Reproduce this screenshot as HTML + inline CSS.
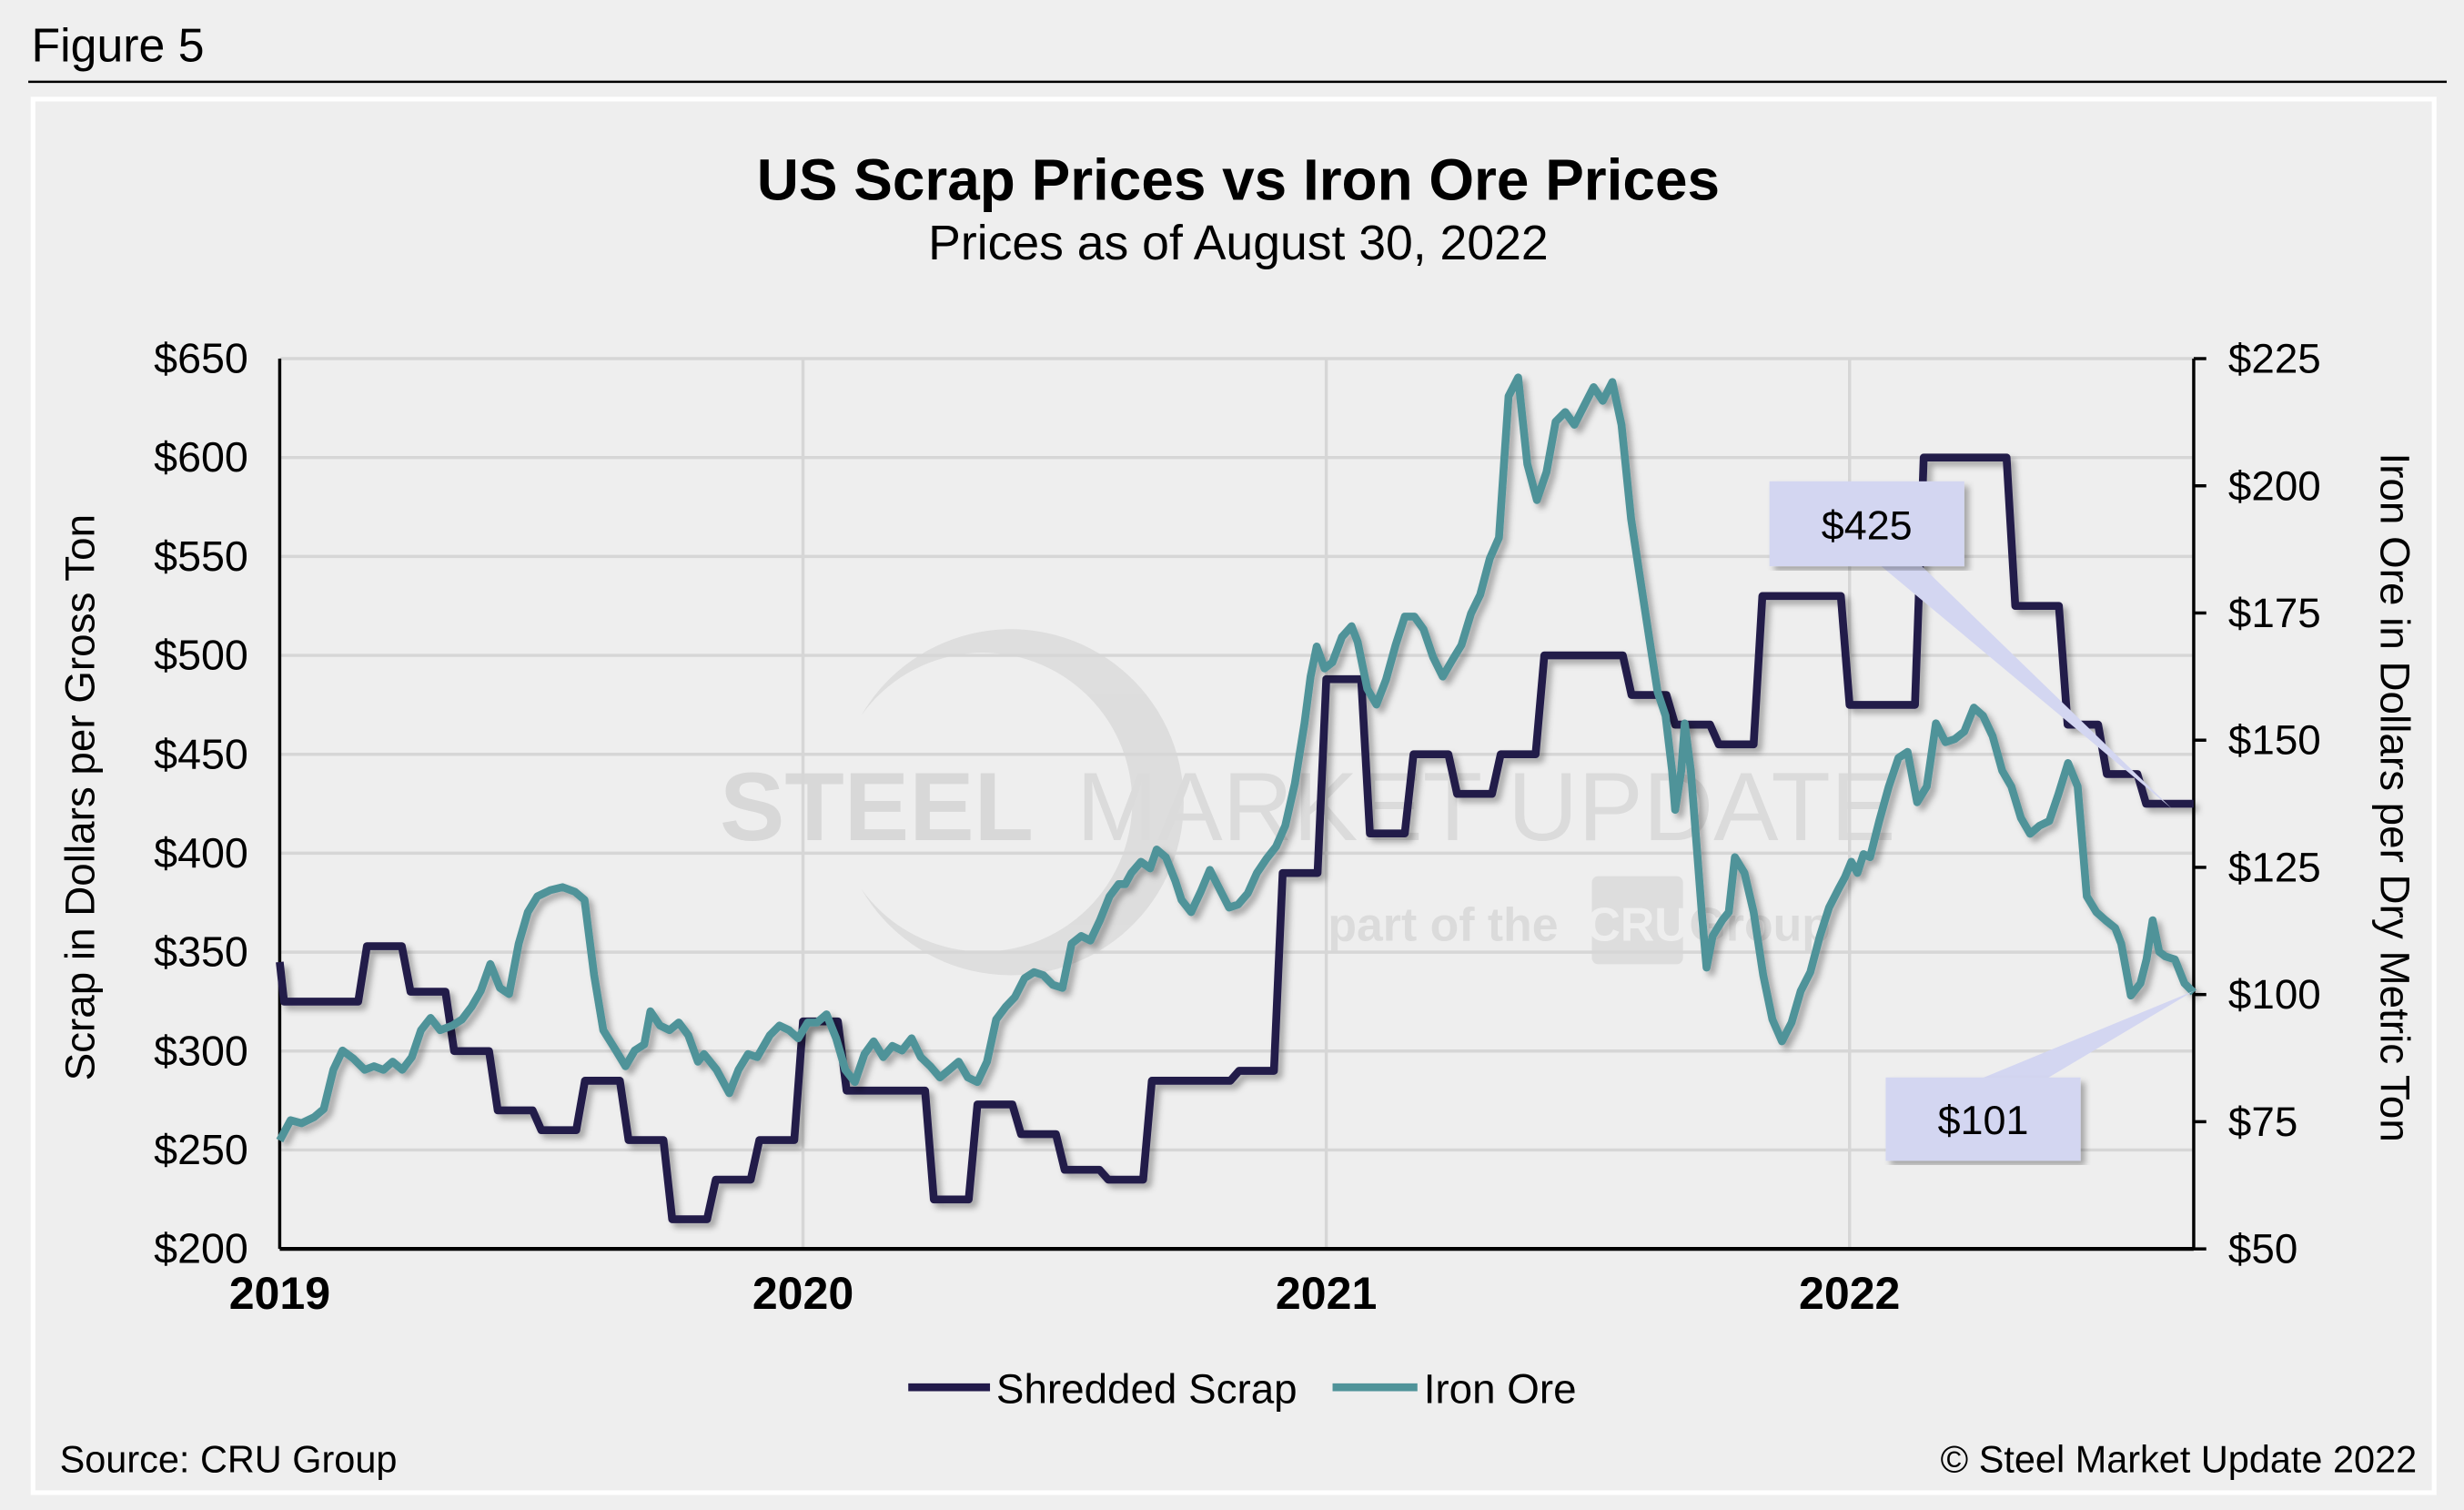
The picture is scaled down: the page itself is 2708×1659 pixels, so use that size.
<!DOCTYPE html>
<html><head><meta charset="utf-8"><style>
html,body{margin:0;padding:0;background:#efefef;}
svg{display:block;font-family:"Liberation Sans",Arial,sans-serif;}
</style></head><body>
<svg id="chart" width="2708" height="1659" viewBox="0 0 1568 960" preserveAspectRatio="none">
<defs>
<filter id="sh" x="-5%" y="-5%" width="110%" height="110%"><feDropShadow dx="3" dy="3" stdDeviation="2" flood-color="#000" flood-opacity="0.3"/></filter>
</defs>
<rect x="0" y="0" width="1568" height="960" fill="#efefef"/>
<text x="20" y="39" font-size="30" fill="#000">Figure 5</text>
<line x1="18" y1="52" x2="1557" y2="52" stroke="#000" stroke-width="1.5"/>
<rect x="21" y="63" width="1528" height="886" fill="#eeeeee" stroke="#fff" stroke-width="3"/>
<text x="788" y="127" font-size="37" font-weight="bold" text-anchor="middle">US Scrap Prices vs Iron Ore Prices</text>
<text x="788" y="165" font-size="31" text-anchor="middle">Prices as of August 30, 2022</text>
<g opacity="0.9">
<path d="M548,455 A110,110 0 1 1 548,565 A95,95 0 1 0 548,455 Z" fill="#dcdcdc"/>
<text x="458" y="534" font-size="62" font-weight="bold" fill="#d6d6d6">STEEL</text>
<text x="685" y="534" font-size="62" fill="#dadada">MARKET UPDATE</text>
<text x="845" y="598" font-size="30" font-weight="bold" fill="#dadada">part of the</text>
<rect x="1013" y="557" width="58" height="56" rx="4" fill="#dcdcdc"/>
<text x="1042" y="598" font-size="30" font-weight="bold" fill="#efefef" text-anchor="middle">CRU</text>
<text x="1075" y="598" font-size="30" font-weight="bold" fill="#dadada">Group</text>
</g>
<g id="grid"></g>
<g id="axes"></g>
<g id="series"></g>
<text transform="translate(60,507) rotate(-90)" font-size="26.5" text-anchor="middle">Scrap in Dollars per Gross Ton</text>
<text transform="translate(1515,507) rotate(90)" font-size="26.5" text-anchor="middle">Iron Ore in Dollars per Dry Metric Ton</text>
<g>
<polygon points="1196,359 1222,359 1382,514" fill="#d3d6f1"/>
<rect x="1126" y="306" width="124" height="54" fill="#d3d6f1" filter="url(#sh)"/>
<text x="1188" y="343" font-size="26" text-anchor="middle">$425</text>
</g>
<g>
<polygon points="1260,686 1302,686 1396,630" fill="#d3d6f1"/>
<rect x="1200" y="685" width="124" height="53" fill="#d3d6f1" filter="url(#sh)"/>
<text x="1262" y="721" font-size="26" text-anchor="middle">$101</text>
</g>
<g>
<line x1="578" y1="882" x2="630" y2="882" stroke="#221a4a" stroke-width="5"/>
<text x="634" y="892" font-size="26.5">Shredded Scrap</text>
<line x1="848" y1="882" x2="902" y2="882" stroke="#4f9399" stroke-width="5"/>
<text x="906" y="892" font-size="26.5">Iron Ore</text>
</g>
<text x="38" y="936" font-size="24">Source: CRU Group</text>
<text x="1538" y="936" font-size="24" text-anchor="end">© Steel Market Update 2022</text>
</svg>
<script>
// months since Jan 2019
const yearLabels = ["2019","2020","2021","2022"];
const leftTicks = [200,250,300,350,400,450,500,550,600,650];
const rightTicks = [50,75,100,125,150,175,200,225];
const scrapMonths = [0,0.1,2,3,4,5,6,7,8,9,10,11,12,13,15,16,17,18,19,20,22,23,24,25,26,27,28,29,31,32,33,34,36,37.7,39.8,41,41.9,42.8];
const scrapValues = [345,325,353,330,300,270,260,285,255,215,235,255,315,280,225,273,258,240,235,285,290,390,488,410,450,430,450,500,480,465,455,530,475,600,525,465,440,425];
const oreMonths = [0,.25,.5,.79,1.01,1.23,1.44,1.69,1.95,2.16,2.38,2.59,2.81,3.03,3.24,3.46,3.68,3.96,4.18,4.40,4.61,4.83,5.05,5.26,5.48,5.69,5.91,6.20,6.49,6.77,6.99,7.21,7.42,7.71,7.93,8.14,8.36,8.50,8.72,8.94,9.15,9.37,9.59,9.73,10.02,10.31,10.52,10.74,10.95,11.24,11.46,11.68,11.89,12.11,12.32,12.54,12.76,12.97,13.19,13.41,13.62,13.84,14.05,14.27,14.49,14.70,14.92,15.14,15.35,15.57,15.78,16.0,16.22,16.43,16.65,16.86,17.08,17.30,17.51,17.73,17.95,18.16,18.38,18.59,18.81,19.03,19.24,19.39,19.53,19.75,19.96,20.11,20.32,20.54,20.68,20.90,21.12,21.33,21.55,21.77,21.98,22.20,22.41,22.63,22.85,23.06,23.28,23.50,23.64,23.78,23.96,24.14,24.36,24.58,24.72,24.94,25.15,25.37,25.59,25.80,26.02,26.23,26.45,26.67,26.88,27.10,27.32,27.53,27.75,27.96,28.18,28.40,28.61,28.83,29.05,29.26,29.48,29.69,29.91,30.13,30.34,30.56,30.77,30.99,31.21,31.42,31.60,31.78,31.93,32.0,32.14,32.22,32.36,32.50,32.61,32.72,32.86,33.08,33.23,33.37,33.59,33.80,34.02,34.23,34.45,34.67,34.88,35.10,35.32,35.53,35.75,35.89,36.04,36.18,36.32,36.47,36.68,36.90,37.12,37.33,37.55,37.77,37.98,38.20,38.41,38.63,38.85,39.06,39.28,39.50,39.71,39.93,40.14,40.36,40.58,40.79,41.01,41.23,41.44,41.66,41.87,42.09,42.23,42.45,42.67,42.81,42.95,43.10,43.24,43.46,43.68,43.89];
const oreValues = [71.3,75.3,74.7,75.9,77.5,85.2,89.0,87.4,85.2,85.9,85.2,86.8,85.2,87.7,93.0,95.4,93.0,93.9,95.1,97.6,100.7,106.0,101.3,100.1,110.0,116.2,119.3,120.5,121.1,120.2,118.6,103.8,93.0,89.0,85.9,89.0,90.2,96.7,93.9,93.0,94.5,92.0,86.8,88.3,85.2,80.6,85.2,88.3,87.7,92.0,93.9,93.0,91.4,94.5,94.5,96.1,91.4,85.2,82.8,88.3,90.8,87.7,89.9,89.0,91.4,87.7,85.9,83.7,85.2,86.8,83.7,82.8,86.8,95.1,97.6,99.5,103.2,104.4,103.8,101.9,101.3,110.0,111.5,110.6,114.6,119.3,121.7,121.7,123.9,126.1,124.8,128.5,127.0,122.3,118.6,116.2,120.2,124.5,120.8,117.1,117.7,119.9,123.9,126.7,129.1,133.2,141.5,153.3,162.5,168.4,164.1,165.3,170.3,172.4,169.3,160.1,157.0,161.9,168.7,174.3,174.3,171.8,166.3,162.5,165.6,168.7,174.9,178.6,185.7,189.8,217.6,221.3,204.3,197.2,202.7,212.6,214.5,212.0,215.7,219.4,216.7,220.4,212.0,193.5,181.1,169.3,159.4,154.8,144.0,136.3,144.0,153.3,144.0,128.5,116.2,105.3,111.5,114.6,116.2,127.0,123.9,116.2,103.8,95.1,90.8,94.5,100.7,104.4,111.5,117.1,120.8,123.0,126.1,123.9,127.6,127.0,134.1,140.9,146.5,147.7,137.8,140.9,153.3,149.6,150.2,151.7,156.4,154.8,150.8,144.0,140.9,134.7,131.6,133.2,134.1,139.4,145.5,140.9,119.3,116.2,114.6,113.1,110.0,99.8,102.2,106.9,114.6,108.4,107.5,106.9,102.2,100.4];
const endMonth = 43.89;

const NS = "http://www.w3.org/2000/svg";
const X0 = 178, X1 = 1396, YT = 228, YB = 794;
const xScale = m => X0 + m * (333 / 12);
const yL = v => YB - (v - 200) / 450 * (YB - YT);
const yR = v => YB - (v - 50) / 175 * (YB - YT);
function mk(tag, attrs, parent) { const e = document.createElementNS(NS, tag); for (const k in attrs) e.setAttribute(k, attrs[k]); parent.appendChild(e); return e; }
const grid = document.getElementById('grid'), axes = document.getElementById('axes'), series = document.getElementById('series');

leftTicks.forEach(v => {
  const y = yL(v);
  if (v > 200) { const g = mk('line', {x1: X0, x2: X1, y1: y, y2: y, stroke: '#d6d6d6', 'stroke-width': 2}, grid);
    
     }
  const t = mk('text', {x: 158, y: y + 9, 'font-size': 27, 'text-anchor': 'end'}, axes);
  t.textContent = '$' + v;
  
  
});
rightTicks.forEach(v => {
  const y = yR(v);
  const tk = mk('line', {x1: X1, x2: X1 + 8, y1: y, y2: y, stroke: '#000', 'stroke-width': 2}, axes);
  
  
  const t = mk('text', {x: 1418, y: y + 9, 'font-size': 26.5}, axes);
  t.textContent = '$' + v;
  
  
});
yearLabels.forEach((lab, i) => {
  const x = xScale(i * 12);
  if (i > 0) { const g = mk('line', {x1: x, x2: x, y1: YT, y2: YB, stroke: '#d6d6d6', 'stroke-width': 2}, grid);
    
     }
  const t = mk('text', {x: x, y: 832, 'font-size': 29, 'font-weight': 'bold', 'text-anchor': 'middle'}, axes);
  t.textContent = lab;
  
  
});
const la = mk('line', {x1: X0, x2: X0, y1: YT, y2: YB, stroke: '#000', 'stroke-width': 2}, axes);


const ra = mk('line', {x1: X1, x2: X1, y1: YT, y2: YB, stroke: '#000', 'stroke-width': 2}, axes);


const ba = mk('line', {x1: X0, x2: X1, y1: YB, y2: YB, stroke: '#000', 'stroke-width': 2.5}, axes);



// scrap step path
let d = '';
for (let i = 0; i < scrapMonths.length; i++) {
  const m = scrapMonths[i], v = scrapValues[i];
  const next = i + 1 < scrapMonths.length ? scrapMonths[i + 1] : endMonth;
  if (i === 0) d += 'M' + xScale(m) + ',' + yL(v);
  else d += ' L' + xScale(m) + ',' + yL(v);
  const hEnd = i + 1 < scrapMonths.length ? Math.max(m, next - 0.2) : next;
  d += ' L' + xScale(hEnd) + ',' + yL(v);
}
const sp = mk('path', {d: d, fill: 'none', stroke: '#221a4a', 'stroke-width': 5, 'stroke-linejoin': 'round', filter: 'url(#sh)'}, series);



let d2 = oreMonths.map((m, i) => (i ? 'L' : 'M') + xScale(m) + ',' + yR(oreValues[i])).join(' ');
const op = mk('path', {d: d2, fill: 'none', stroke: '#4f9399', 'stroke-width': 5, 'stroke-linejoin': 'round', filter: 'url(#sh)'}, series);


</script>
</body></html>
